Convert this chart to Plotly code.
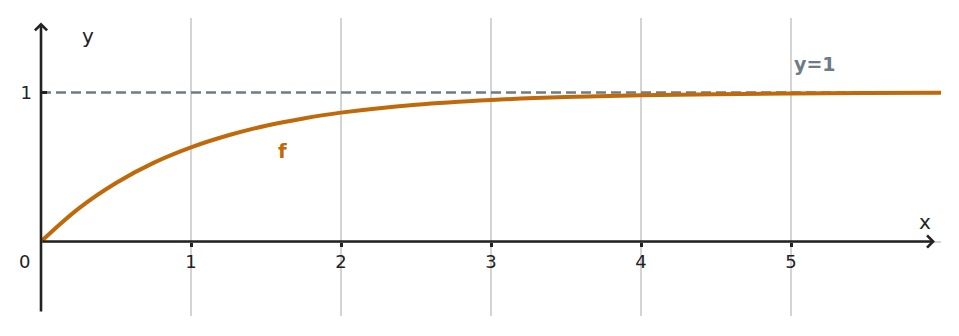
import plotly.graph_objects as go

# readings from the picture
x_vals = [0, 0.25, 0.5, 0.75, 1.0, 1.25, 1.5, 1.75, 2.0, 2.5, 3.0, 3.5, 4.0, 4.5, 5.0, 5.5, 6.0]
f_vals = [0, 0.221, 0.393, 0.528, 0.632, 0.713, 0.777, 0.826, 0.865, 0.918, 0.950, 0.970, 0.982, 0.989, 0.993, 0.996, 0.998]
asym_x = [0, 6.0]
asym_y = [1, 1]
x_ticks = [1, 2, 3, 4, 5]
y_ticks = [1]

ORANGE = "#c0690a"
SLATE = "#6e7b86"
DARK = "#222222"
FONT = "DejaVu Sans"

fig = go.Figure()
fig.add_trace(go.Scatter(x=asym_x, y=asym_y, mode="lines",
                         line=dict(color=SLATE, width=2.5, dash="10px,5px"),
                         hoverinfo="skip", showlegend=False))
fig.add_trace(go.Scatter(x=x_vals, y=f_vals, mode="lines",
                         line=dict(color=ORANGE, width=4, shape="spline"),
                         showlegend=False))

fig.update_layout(
    width=959, height=336,
    margin=dict(l=41, r=18, t=18, b=20),
    plot_bgcolor="white", paper_bgcolor="white",
    font=dict(family=FONT, size=18, color=DARK),
    xaxis=dict(range=[0, 6], tickvals=x_ticks, showgrid=True, gridcolor="#d4d4d4",
               gridwidth=1.5, zeroline=False, showline=False,
               anchor="free", position=0.25, ticks="outside", ticklen=4,
               tickwidth=2.5, tickcolor=DARK, ticklabelstandoff=0,
               tickfont=dict(family=FONT, size=18, color=DARK)),
    yaxis=dict(range=[-0.5, 1.5], tickvals=y_ticks, showgrid=False, zeroline=True,
               zerolinecolor="#d4d4d4", zerolinewidth=1.5, showline=False,
               ticks="inside", ticklen=6, tickwidth=2.5, tickcolor=DARK,
               ticklabelstandoff=8,
               tickfont=dict(family=FONT, size=18, color=DARK)),
)

# axis arrows
fig.add_annotation(x=5.96, y=0, ax=0, ay=0, xref="x", yref="y", axref="x", ayref="y",
                   showarrow=True, arrowhead=4, arrowsize=0.9, arrowwidth=2.6,
                   arrowcolor=DARK, text="")
fig.add_annotation(x=0, y=1.47, ax=0, ay=-0.48, xref="x", yref="y", axref="x", ayref="y",
                   showarrow=True, arrowhead=4, arrowsize=0.9, arrowwidth=2.6,
                   arrowcolor=DARK, text="")

# labels
fig.add_annotation(x=0, y=0, xref="x", yref="y", text="0", showarrow=False,
                   xshift=-17, yshift=-20, font=dict(family=FONT, size=18, color=DARK))
fig.add_annotation(x=0.31, y=1.38, xref="x", yref="y", text="y", showarrow=False,
                   font=dict(family=FONT, size=20, color=DARK))
fig.add_annotation(x=5.89, y=0.13, xref="x", yref="y", text="x", showarrow=False,
                   font=dict(family=FONT, size=20, color=DARK))
fig.add_annotation(x=1.61, y=0.61, xref="x", yref="y", text="<b>f</b>", showarrow=False,
                   font=dict(family=FONT, size=20, color=ORANGE))
fig.add_annotation(x=5.16, y=1.19, xref="x", yref="y", text="<b>y=1</b>", showarrow=False,
                   bgcolor="white", font=dict(family=FONT, size=19, color=SLATE))

fig.write_html("out.html")
